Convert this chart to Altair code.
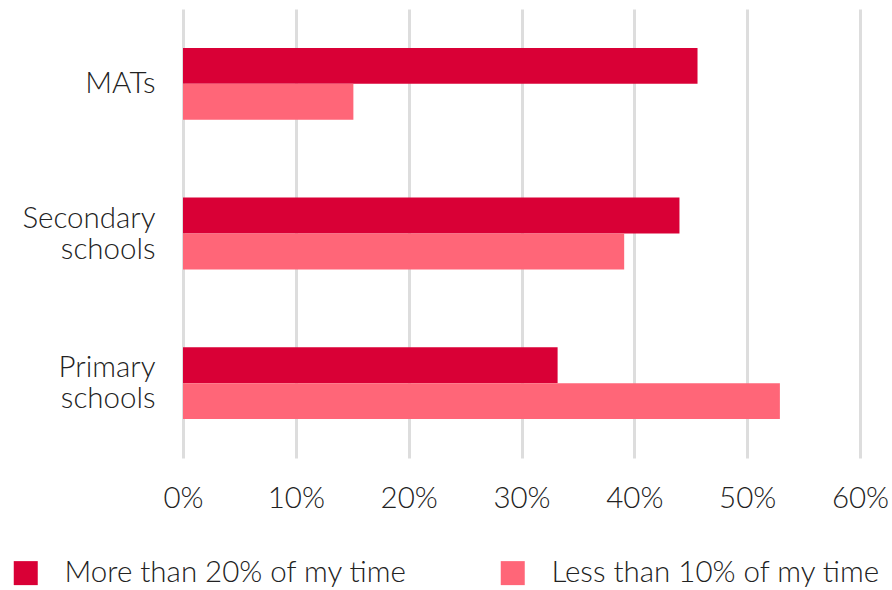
import altair as alt
import pandas as pd

categories = ["MATs", "Secondary schools", "Primary schools"]
series = ["More than 20% of my time", "Less than 10% of my time"]
more_than_20 = [45.6, 44.0, 33.2]
less_than_10 = [15.1, 39.1, 52.9]
x_ticks = [0, 10, 20, 30, 40, 50, 60]

rows = []
for cat, a, b in zip(categories, more_than_20, less_than_10):
    rows.append({"group": cat, "series": series[0], "value": a})
    rows.append({"group": cat, "series": series[1], "value": b})
df = pd.DataFrame(rows)

FONT = "Lato"
TEXT = "#222222"
FS = 29.5

chart = (
    alt.Chart(df)
    .mark_bar()
    .encode(
        x=alt.X(
            "value:Q",
            scale=alt.Scale(domain=[0, 60], nice=False),
            axis=alt.Axis(
                values=x_ticks,
                labelExpr="datum.value + '%'",
                title=None,
                domain=False,
                ticks=False,
                grid=True,
                gridColor="#DDDDDD",
                gridWidth=3,
                labelFlush=False,
                labelPadding=26,
                labelFontSize=FS,
                labelFont=FONT,
                labelFontWeight=300,
                labelColor=TEXT,
            ),
        ),
        y=alt.Y(
            "group:N",
            sort=categories,
            scale=alt.Scale(paddingInner=0.52, paddingOuter=0.26),
            axis=alt.Axis(
                title=None,
                domain=False,
                ticks=False,
                labelExpr="datum.label == 'MATs' ? datum.label : split(datum.label, ' ')",
                labelOffset={"condition": {"test": "datum.value == 'MATs'", "value": 0}, "value": -15},
                labelPadding=28,
                labelFontSize=FS,
                labelFont=FONT,
                labelFontWeight=300,
                labelColor=TEXT,
                labelLineHeight=31,
            ),
        ),
        yOffset=alt.YOffset("series:N", sort=series, scale=alt.Scale(paddingInner=0, paddingOuter=0)),
        color=alt.Color(
            "series:N",
            sort=series,
            scale=alt.Scale(domain=series, range=["#D90036", "#FF6678"]),
            legend=alt.Legend(
                title=None,
                orient="none",
                legendX=-172,
                legendY=549,
                direction="horizontal",
                columns=2,
                symbolType="square",
                symbolSize=576,
                symbolStrokeWidth=0,
                symbolOpacity=1,
                labelOffset=24,
                columnPadding=90,
                labelFontSize=FS,
                labelFont=FONT,
                labelFontWeight=300,
                labelColor=TEXT,
                labelLimit=500,
            ),
        ),
    )
    .properties(
        width=677,
        height=449,
        autosize=alt.AutoSizeParams(type="none"),
        padding={"left": 183, "top": 9, "right": 32, "bottom": 132},
    )
    .configure_view(stroke=None)
)

chart.save("out.html", embed_options={"renderer": "svg", "actions": False})
